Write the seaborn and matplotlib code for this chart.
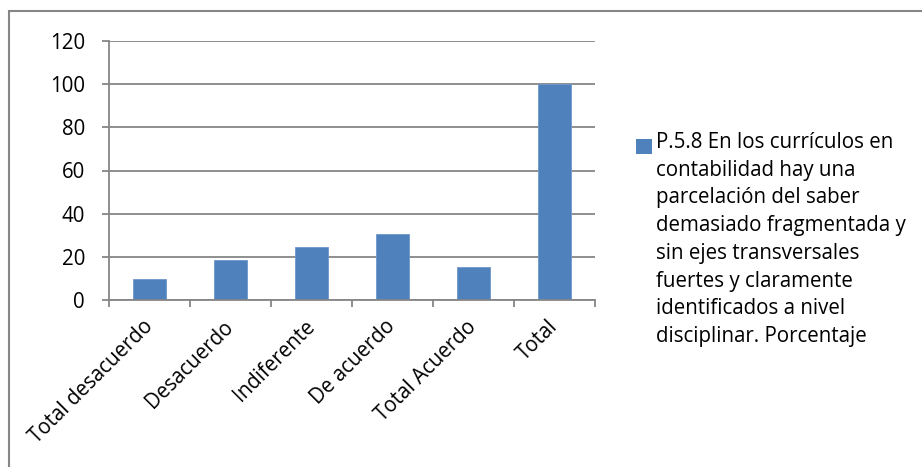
import matplotlib
matplotlib.use("Agg")
import matplotlib.pyplot as plt
from matplotlib.patches import Rectangle
import numpy as np
import pandas as pd
import seaborn as sns

# Response categories and their percentages
categories = ["Total desacuerdo", "Desacuerdo", "Indiferente", "De acuerdo",
              "Total Acuerdo", "Total"]
percentages = [9.7, 18.5, 24.6, 30.8, 15.4, 100.0]

y_ticks = [0, 20, 40, 60, 80, 100, 120]

legend_lines = [
    "P.5.8 En los currículos en",
    "contabilidad hay una",
    "parcelación del saber",
    "demasiado fragmentada y",
    "sin ejes transversales",
    "fuertes y claramente",
    "identificados a nivel",
    "disciplinar. Porcentaje",
]

BAR_COLOR = "#4F81BD"
LINE_COLOR = "#868686"

sns.set_theme(style="white")
plt.rcParams["font.family"] = ["Open Sans", "DejaVu Sans"]

W, H = 922, 467
fig = plt.figure(figsize=(W / 100, H / 100), dpi=100)
fig.patch.set_facecolor("white")

# plot area in pixel coordinates
x0, x1 = 109, 595
y_top, y_bot = 41, 300
ax = fig.add_axes([x0 / W, 1 - y_bot / H, (x1 - x0) / W, (y_bot - y_top) / H])

df = pd.DataFrame({"categoria": categories, "porcentaje": percentages})
sns.barplot(data=df, x="categoria", y="porcentaje", color=BAR_COLOR,
            saturation=1, width=0.4, ax=ax, edgecolor="#6f97c9", linewidth=0.6)

ax.set_xlim(-0.5, len(categories) - 0.5)
ax.set_ylim(0, 120)
ax.set_yticks(y_ticks)
ax.set_xlabel("")
ax.set_ylabel("")

fs = 14.8
ax.grid(axis="y", color=LINE_COLOR, linewidth=1.3, zorder=0)
ax.set_axisbelow(True)
for side in ["top", "right"]:
    ax.spines[side].set_visible(False)
for side in ["left", "bottom"]:
    ax.spines[side].set_color(LINE_COLOR)
    ax.spines[side].set_linewidth(1.3)

ax.tick_params(axis="y", which="major", length=5.2, width=1.3, color=LINE_COLOR,
               direction="out", pad=12, labelsize=fs, labelcolor="black", left=True)

# category labels at bar centres, tick marks at the category boundaries
ax.set_xticks(np.arange(len(categories)))
ax.set_xticklabels(categories, rotation=45, ha="right", va="center",
                   rotation_mode="anchor", fontsize=fs, color="black")
ax.set_xticks(np.arange(len(categories) + 1) - 0.5, minor=True)
ax.tick_params(axis="x", which="major", length=0, pad=17)
ax.tick_params(axis="x", which="minor", length=5, width=1.3, color=LINE_COLOR,
               direction="out", bottom=True)

# legend
lx, ly = 636, 139
fig.patches.append(Rectangle((lx / W, 1 - (ly + 15) / H), 16 / W, 15 / H,
                             transform=fig.transFigure, facecolor=BAR_COLOR,
                             edgecolor="none"))
for i, line in enumerate(legend_lines):
    fig.text(656 / W, 1 - (148 + i * 27.7) / H, line, fontsize=fs,
             va="baseline", ha="left", color="black")

# chart frame
fig.patches.append(Rectangle((9 / W, -0.05), 1.0, 1 - 11 / H + 0.05,
                             transform=fig.transFigure, facecolor="none",
                             edgecolor=LINE_COLOR, linewidth=1.5))

fig.savefig("out.png", dpi=100, facecolor="white")
